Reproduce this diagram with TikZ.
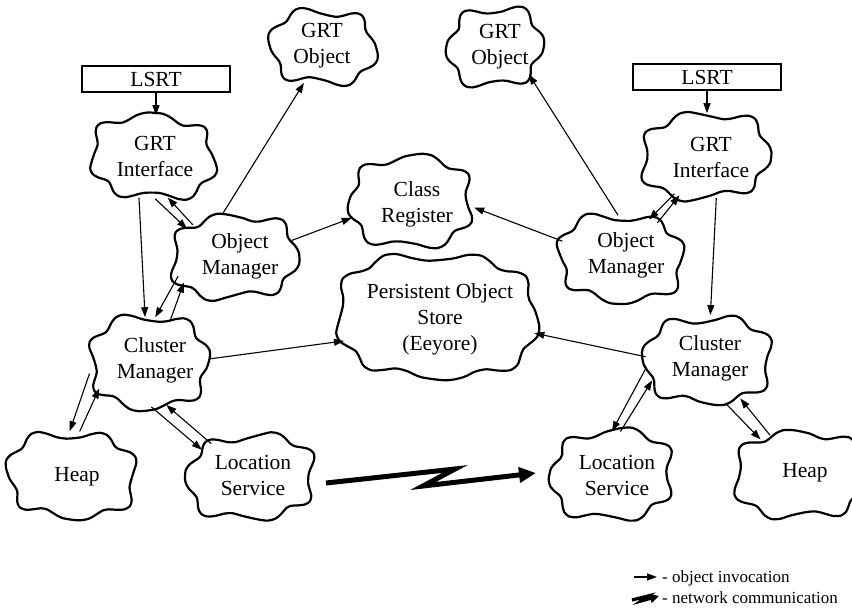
\documentclass[tikz,border=0pt]{standalone}
\usepackage{fontspec}
\setmainfont{Liberation Serif}
\usetikzlibrary{arrows.meta,shapes.geometric,calc}

\tikzset{
  cloudline/.style={line width=2.2pt, line join=round},
  anchorbox/.style={ellipse, inner sep=0pt, draw=none},
  cloudtext/.style={align=center, font=\fontsize{21.5}{26}\selectfont, inner sep=0pt},
  lsrtbox/.style={draw, line width=2.4pt, minimum width=148pt, minimum height=26pt,
                  inner sep=0pt, font=\fontsize{21.5}{26}\selectfont},
  invoke/.style={line width=1.1pt, -{Triangle[length=10pt,width=7pt]}},
  netlink/.style={line width=5pt, line join=miter, -{Triangle[length=17pt,width=15pt]}},
  netsmall/.style={line width=3.2pt, line join=miter, -{Triangle[length=9pt,width=9pt]}},
  legendtext/.style={anchor=west, font=\fontsize{17}{20}\selectfont, inner sep=0pt},
}

% wavy blob outline plus an invisible ellipse used as the connector anchor
% #1 name, #2 cx, #3 cy, #4 rx, #5 ry, #6 number of bumps, #7 phase
\newcommand\blob[7]{%
  \draw[cloudline] plot[smooth cycle, variable=\t, domain=5:357.5, samples=48]
    ({#2 + #4*sign(cos(\t))*abs(cos(\t))^0.75
          + (4.5*sin(#6*\t+#7) + 2*sin(2*\t+2*#7))*cos(\t)},
     {#3 + #5*sign(sin(\t))*abs(sin(\t))^0.75
          + (4.5*sin(#6*\t+#7) + 2*sin(2*\t+2*#7))*sin(\t)});
  \node[anchorbox, minimum width={2.08*#4pt}, minimum height={2.08*#5pt}] (#1) at (#2,#3) {};
}

\begin{document}
\begin{tikzpicture}[x=1pt,y=-1pt]
\useasboundingbox (0,0) rectangle (852,611);
\clip (0,0) rectangle (852,611);

% ---- left site ----
\node[lsrtbox] (lsrtL) at (156,79) {LSRT};
\blob{giL}{153}{157}{60}{40}{7}{0}
\node[cloudtext] (giL-t) at (155,156) {GRT\\Interface};
\blob{omL}{234}{257}{60}{41}{7}{70}
\node[cloudtext] (omL-t) at (240,256) {Object\\Manager};
\blob{groL}{323}{47}{49}{37}{6}{30}
\node[cloudtext] (groL-t) at (322,46) {GRT\\Object};
\blob{cmL}{149}{362}{59}{43}{7}{140}
\node[cloudtext] (cmL-t) at (155,360) {Cluster\\Manager};
\blob{heapL}{72}{475}{61}{42}{7}{200}
\node[cloudtext] (heapL-t) at (77,477) {Heap};
\blob{locL}{251}{477}{61}{41}{7}{260}
\node[cloudtext] (locL-t) at (253,475) {Location\\Service};

% ---- shared services ----
\blob{crg}{411}{202}{61}{42}{7}{310}
\node[cloudtext] (crg-t) at (417,204) {Class\\Register};
\blob{pos}{437}{316}{97}{61}{9}{20}
\node[cloudtext] (pos-t) at (440,319) {Persistent Object\\Store\\(Eeyore)};

% ---- right site ----
\node[lsrtbox] (lsrtR) at (707,77) {LSRT};
\blob{giR}{705}{156}{62}{41}{7}{90}
\node[cloudtext] (giR-t) at (711,157) {GRT\\Interface};
\blob{omR}{621}{258}{61}{41}{7}{170}
\node[cloudtext] (omR-t) at (626,255) {Object\\Manager};
\blob{groR}{495}{47}{46}{37}{6}{110}
\node[cloudtext] (groR-t) at (500,47) {GRT\\Object};
\blob{cmR}{708}{360}{60}{43}{7}{230}
\node[cloudtext] (cmR-t) at (710,358) {Cluster\\Manager};
\blob{locR}{612}{475}{60}{42}{7}{290}
\node[cloudtext] (locR-t) at (617,475) {Location\\Service};
\blob{heapR}{800}{475}{62}{43}{7}{50}
\node[cloudtext] (heapR-t) at (805,473) {Heap};

% ---- object invocations, left ----
\draw[invoke] (lsrtL.south) -- (lsrtL.south |- giL.north);
\draw[invoke] (giL.-87) -- (omL.149);
\draw[invoke] (omL.142) -- (giL.-70);
\draw[invoke] (giL.-109) -- (cmL.95);
\draw[invoke] (omL.-161) -- (cmL.82);
\draw[invoke] (cmL.63) -- (omL.-153);
\draw[invoke] (omL.106) -- (groL.-118);
\draw[invoke] (omL.16) -- (crg.-165);
\draw[invoke] (cmL.3) -- (pos.-165);
\draw[invoke] (cmL.-169) -- (heapL.93);
\draw[invoke] (heapL.80) -- (cmL.-152);
\draw[invoke] (cmL.-87) -- (locL.151);
\draw[invoke] (locL.140) -- (cmL.-68);

% ---- object invocations, right ----
\draw[invoke] (lsrtR.south) -- (lsrtR.south |- giR.north);
\draw[invoke] (giR.-129) -- (omR.54);
\draw[invoke] (omR.44) -- (giR.-123);
\draw[invoke] (giR.-75) -- (cmR.87);
\draw[invoke] (omR.94) -- (groR.-39);
\draw[invoke] (omR.164) -- (crg.-5);
\draw[invoke] (cmR.177) -- (pos.-10);
\draw[invoke] (cmR.-173) -- (locR.90);
\draw[invoke] (locR.79) -- (cmR.-160);
\draw[invoke] (cmR.-68) -- (heapR.138);
\draw[invoke] (heapR.127) -- (cmR.-50);

% ---- network link between the two location services ----
\coordinate (netS) at (326,483);
\coordinate (netZa) at (455,469);
\coordinate (netZb) at (423,486);
\coordinate (netE) at (536,473);
\draw[netlink] (netS) -- (netZa) -- (netZb) -- (netE);

% ---- legend ----
\coordinate (lgA) at (634,577);
\coordinate (lgB) at (657,577);
\draw[invoke] (lgA) -- (lgB);
\node[legendtext] (lgT1) at (662,578) {- object invocation};
\coordinate (lgN1) at (632,600);
\coordinate (lgN2) at (648,596);
\coordinate (lgN3) at (641,601);
\coordinate (lgN4) at (659,596);
\draw[netsmall] (lgN1) -- (lgN2) -- (lgN3) -- (lgN4);
\node[legendtext] (lgT2) at (662,598) {- network communication};
\end{tikzpicture}
\end{document}
